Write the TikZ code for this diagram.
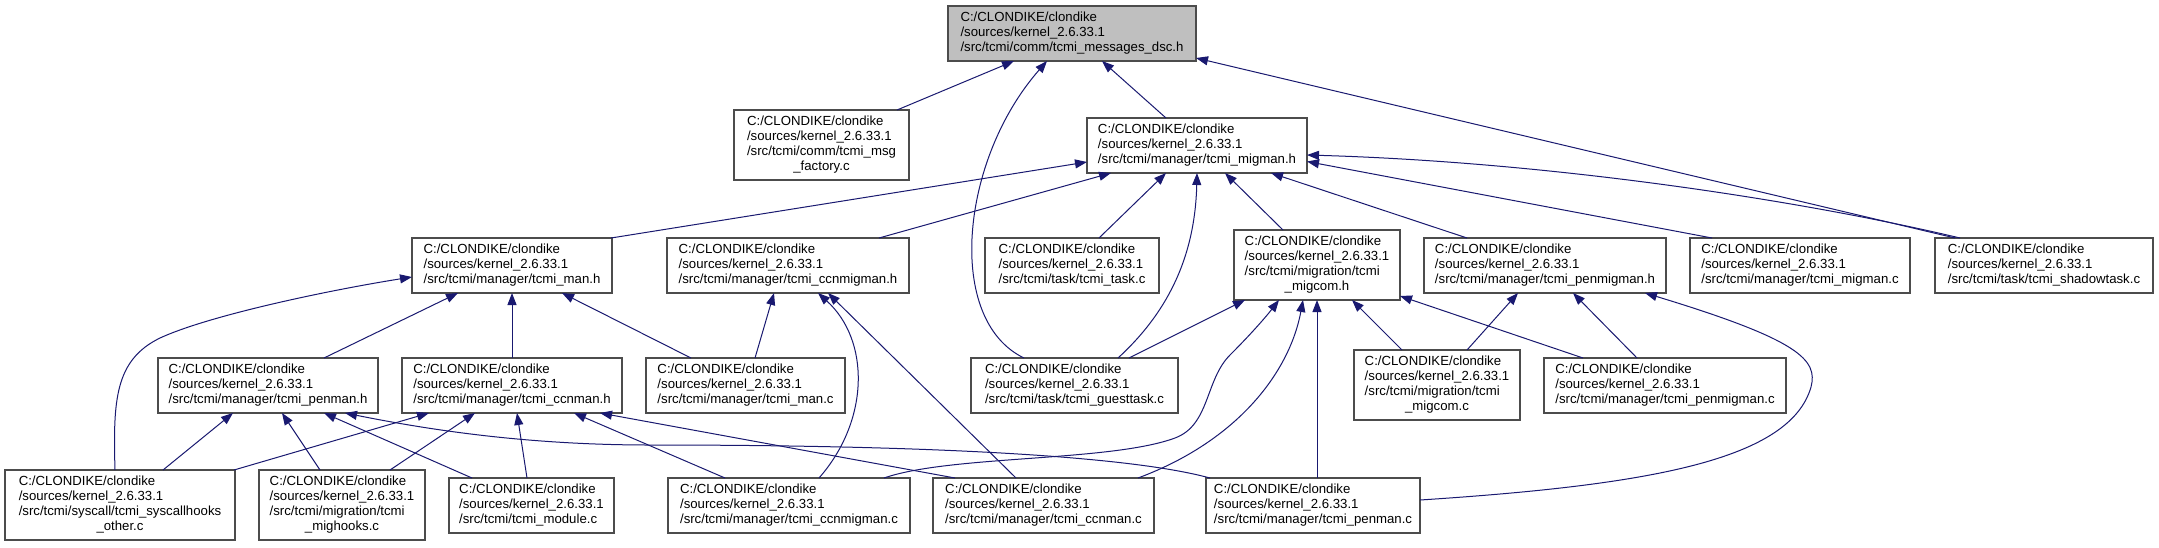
\documentclass[tikz,border=0pt]{standalone}
\usepackage{fontspec}
\setmainfont{Liberation Sans}
\usetikzlibrary{arrows.meta}
\definecolor{mblue}{HTML}{191970}
\definecolor{rootgray}{HTML}{BFBFBF}
\newcommand\lns[1]{\begin{tabular}{@{}l@{}}#1\end{tabular}}
\newcommand\lastc[1]{\multicolumn{1}{@{}c@{}}{#1}}
\newcommand\hdr{C:/CLONDIKE/clondike\\/sources/kernel\_2.6.33.1\\}
\tikzset{
  fbox/.style={draw=black!70, line width=1.3pt, fill=white, anchor=north west, inner sep=0pt, outer sep=0pt,
    font=\fontsize{13.2}{15}\selectfont, align=center},
  dep/.style={draw=mblue, line width=1pt, -{Triangle[length=12pt,width=9pt]}}
}
\begin{document}
\begin{tikzpicture}[x=1pt,y=-1pt]
\fill[white] (0,0) rectangle (2159,547);
\useasboundingbox (0,0) rectangle (2159,547);
% nodes
\node[fbox, fill=rootgray, minimum width=248pt, minimum height=55pt] (root) at (948,6) {\lns{\hdr /src/tcmi/comm/tcmi\_messages\_dsc.h}};
\node[fbox, minimum width=175pt, minimum height=70pt] (msgf) at (734,110) {\lns{\hdr /src/tcmi/comm/tcmi\_msg\\\lastc{\_factory.c}}};
\node[fbox, minimum width=220pt, minimum height=55pt] (migmanh) at (1087,118) {\lns{\hdr /src/tcmi/manager/tcmi\_migman.h}};
\node[fbox, minimum width=200pt, minimum height=55pt] (manh) at (412,238) {\lns{\hdr /src/tcmi/manager/tcmi\_man.h}};
\node[fbox, minimum width=242pt, minimum height=55pt] (ccnmigmanh) at (667,238) {\lns{\hdr /src/tcmi/manager/tcmi\_ccnmigman.h}};
\node[fbox, minimum width=174pt, minimum height=55pt] (taskc) at (985,238) {\lns{\hdr /src/tcmi/task/tcmi\_task.c}};
\node[fbox, minimum width=166pt, minimum height=70pt] (migcomh) at (1234,230) {\lns{\hdr /src/tcmi/migration/tcmi\\\lastc{\_migcom.h}}};
\node[fbox, minimum width=242pt, minimum height=55pt] (penmigmanh) at (1424,238) {\lns{\hdr /src/tcmi/manager/tcmi\_penmigman.h}};
\node[fbox, minimum width=220pt, minimum height=55pt] (migmanc) at (1690,238) {\lns{\hdr /src/tcmi/manager/tcmi\_migman.c}};
\node[fbox, minimum width=218pt, minimum height=55pt] (shadowc) at (1935,238) {\lns{\hdr /src/tcmi/task/tcmi\_shadowtask.c}};
\node[fbox, minimum width=220pt, minimum height=55pt] (penmanh) at (158,358) {\lns{\hdr /src/tcmi/manager/tcmi\_penman.h}};
\node[fbox, minimum width=220pt, minimum height=55pt] (ccnmanh) at (402,358) {\lns{\hdr /src/tcmi/manager/tcmi\_ccnman.h}};
\node[fbox, minimum width=199pt, minimum height=55pt] (manc) at (646,358) {\lns{\hdr /src/tcmi/manager/tcmi\_man.c}};
\node[fbox, minimum width=207pt, minimum height=55pt] (guestc) at (971,358) {\lns{\hdr /src/tcmi/task/tcmi\_guesttask.c}};
\node[fbox, minimum width=166pt, minimum height=70pt] (migcomc) at (1354,350) {\lns{\hdr /src/tcmi/migration/tcmi\\\lastc{\_migcom.c}}};
\node[fbox, minimum width=242pt, minimum height=55pt] (penmigmanc) at (1544,358) {\lns{\hdr /src/tcmi/manager/tcmi\_penmigman.c}};
\node[fbox, minimum width=230pt, minimum height=70pt] (syscallc) at (5,470) {\lns{\hdr /src/tcmi/syscall/tcmi\_syscallhooks\\\lastc{\_other.c}}};
\node[fbox, minimum width=166pt, minimum height=70pt] (mighooksc) at (259,470) {\lns{\hdr /src/tcmi/migration/tcmi\\\lastc{\_mighooks.c}}};
\node[fbox, minimum width=165pt, minimum height=55pt] (modulec) at (449,478) {\lns{\hdr /src/tcmi/tcmi\_module.c}};
\node[fbox, minimum width=242pt, minimum height=55pt] (ccnmigmanc) at (668,478) {\lns{\hdr /src/tcmi/manager/tcmi\_ccnmigman.c}};
\node[fbox, minimum width=221pt, minimum height=55pt] (ccnmanc) at (933,478) {\lns{\hdr /src/tcmi/manager/tcmi\_ccnman.c}};
\node[fbox, minimum width=214pt, minimum height=55pt] (penmanc) at (1206,478) {\lns{\hdr /src/tcmi/manager/tcmi\_penman.c}};
% edges
\draw[dep] ([xshift=163pt]msgf.north west) -- ([xshift=66pt]root.south west);
\draw[dep] ([xshift=79pt]migmanh.north west) -- ([xshift=154pt]root.south west);
\draw[dep] ([xshift=53pt]guestc.north west) .. controls (945,320) and (960,160) .. ([xshift=99pt]root.south west);
\draw[dep] ([xshift=20pt]shadowc.north west) -- ([yshift=3pt]root.south east);
\draw[dep] ([xshift=-1pt]manh.north east) -- ([yshift=-16.5pt]migmanh.west);
\draw[dep] ([xshift=212pt]ccnmigmanh.north west) -- ([xshift=24pt]migmanh.south west);
\draw[dep] ([xshift=114pt]taskc.north west) -- ([xshift=79pt]migmanh.south west);
\draw[dep] ([xshift=147pt]guestc.north west) .. controls (1165,315) and (1195,260) .. ([xshift=110pt]migmanh.south west);
\draw[dep] ([xshift=49pt]migcomh.north west) -- ([xshift=138pt]migmanh.south west);
\draw[dep] ([xshift=43pt]penmigmanh.north west) -- ([xshift=184pt]migmanh.south west);
\draw[dep] ([xshift=22pt]migmanc.north west) -- ([yshift=-16pt]migmanh.east);
\draw[dep] ([xshift=25pt]shadowc.north west) .. controls (1800,200) and (1550,162) .. ([yshift=-9.5pt]migmanh.east);
\draw[dep] ([xshift=166pt]penmanh.north west) -- ([xshift=46pt]manh.south west);
\draw[dep] (ccnmanh.north) -- (manh.south);
\draw[dep] ([xshift=45pt]manc.north west) -- ([xshift=150pt]manh.south west);
\draw[dep] ([xshift=110pt]syscallc.north west) .. controls (113,400) and (115,360) .. (160,338) .. controls (210,315) and (330,290) .. ([yshift=-11.5pt]manh.west);
\draw[dep] ([xshift=109pt]manc.north west) -- ([xshift=107pt]ccnmigmanh.south west);
\draw[dep] ([xshift=151pt]ccnmigmanc.north west) .. controls (870,420) and (870,340) .. ([xshift=151pt]ccnmigmanh.south west);
\draw[dep] ([xshift=83pt]ccnmanc.north west) -- ([xshift=161pt]ccnmigmanh.south west);
\draw[dep] ([xshift=158pt]guestc.north west) -- ([xshift=11pt]migcomh.south west);
\draw[dep] ([xshift=216pt]ccnmigmanc.north west) .. controls (950,455) and (1110,462) .. (1175,438) .. controls (1210,425) and (1205,380) .. (1230,355) .. controls (1250,335) and (1265,318) .. ([xshift=45pt]migcomh.south west);
\draw[dep] ([xshift=205pt]ccnmanc.north west) .. controls (1240,440) and (1290,370) .. ([xshift=69pt]migcomh.south west);
\draw[dep] (migcomh.south |- penmanc.north) -- (migcomh.south);
\draw[dep] ([xshift=48pt]migcomc.north west) -- ([xshift=118pt]migcomh.south west);
\draw[dep] ([xshift=39pt]penmigmanc.north west) -- ([yshift=-31pt]migcomh.east);
\draw[dep] ([xshift=113pt]migcomc.north west) -- ([xshift=94pt]penmigmanh.south west);
\draw[dep] ([xshift=93pt]penmigmanc.north west) -- ([xshift=149pt]penmigmanh.south west);
\draw[dep] ([yshift=5.5pt]penmanc.east) .. controls (1650,485) and (1790,460) .. (1811,387) .. controls (1818,360) and (1800,340) .. ([xshift=221pt]penmigmanh.south west);
\draw[dep] ([xshift=158pt]syscallc.north west) -- ([xshift=75pt]penmanh.south west);
\draw[dep] ([xshift=61pt]mighooksc.north west) -- ([xshift=124pt]penmanh.south west);
\draw[dep] ([xshift=23pt]modulec.north west) -- ([xshift=166pt]penmanh.south west);
\draw[dep] ([xshift=4pt]penmanc.north west) .. controls (1100,448) and (800,445) .. (650,445) .. controls (520,445) and (420,428) .. ([xshift=187pt]penmanh.south west);
\draw[dep] ([xshift=-1pt]syscallc.north east) -- ([xshift=27pt]ccnmanh.south west);
\draw[dep] ([xshift=131pt]mighooksc.north west) -- ([xshift=73pt]ccnmanh.south west);
\draw[dep] ([xshift=78pt]modulec.north west) -- ([xshift=115pt]ccnmanh.south west);
\draw[dep] ([xshift=57pt]ccnmigmanc.north west) -- ([xshift=172pt]ccnmanh.south west);
\draw[dep] ([xshift=22pt]ccnmanc.north west) -- ([xshift=198pt]ccnmanh.south west);
\end{tikzpicture}
\end{document}
